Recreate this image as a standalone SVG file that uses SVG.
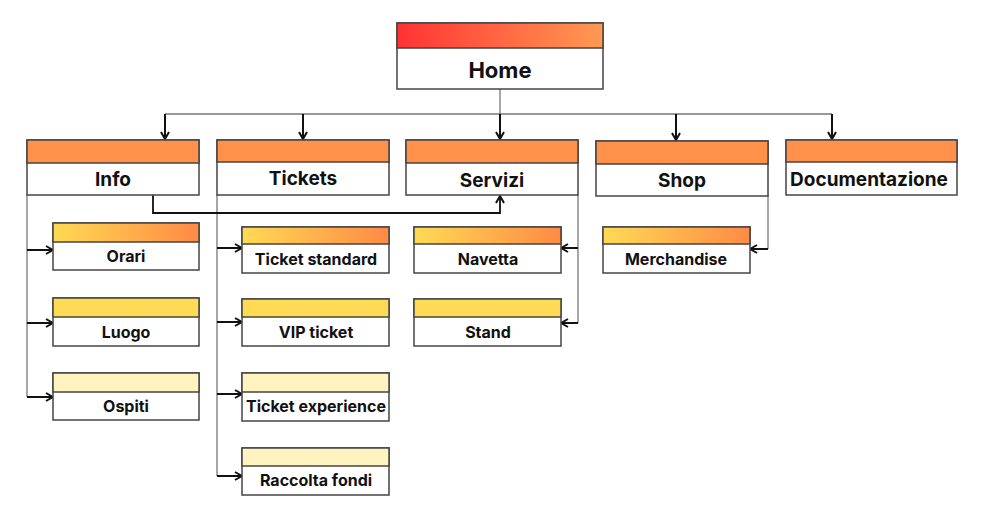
<svg xmlns="http://www.w3.org/2000/svg" width="986" height="515" viewBox="0 0 986 515">
<defs>
<linearGradient id="gRed" x1="0" y1="0" x2="1" y2="0"><stop offset="0" stop-color="#FF3333"/><stop offset="1" stop-color="#FF9A52"/></linearGradient>
<linearGradient id="gYel" x1="0" y1="0" x2="1" y2="0"><stop offset="0" stop-color="#FFDA55"/><stop offset="1" stop-color="#FF8A45"/></linearGradient>
<marker id="ah" viewBox="0 0 10 10" refX="9" refY="5" markerWidth="10" markerHeight="10" markerUnits="userSpaceOnUse" orient="auto">
<path d="M2,1 L9,5 L2,9" fill="none" stroke="#111" stroke-width="2"/>
</marker>
<style>
.box{fill:#fff;stroke:#444;stroke-width:1.5}
.hd{stroke:#444;stroke-width:1.5}
.t1{font-family:Inter,"Liberation Sans",sans-serif;font-weight:700;font-size:19px;fill:#111;text-anchor:middle}
.t2{font-family:Inter,"Liberation Sans",sans-serif;font-weight:700;font-size:16px;fill:#111;text-anchor:middle}
.th{font-family:Inter,"Liberation Sans",sans-serif;font-weight:700;font-size:22px;fill:#111;text-anchor:middle}
.gl{fill:none;stroke:#777;stroke-width:1.3}
.ar{fill:none;stroke:#111;stroke-width:2;marker-end:url(#ah)}
</style>
</defs>
<rect width="986" height="515" fill="#fff"/>
<g id="connectors">
<path class="gl" d="M500,89 V114 M165,114 H832"/>
<path class="ar" d="M165,114 V139"/>
<path class="ar" d="M303,114 V139"/>
<path class="ar" d="M500,114 V139"/>
<path class="ar" d="M676,114 V140"/>
<path class="ar" d="M832,114 V139"/>
<path class="gl" d="M27,195 V397"/>
<path class="ar" d="M27,250 H53"/>
<path class="ar" d="M27,323 H53"/>
<path class="ar" d="M27,397 H53"/>
<path class="gl" d="M217,195 V476"/>
<path class="ar" d="M217,248 H242"/>
<path class="ar" d="M217,322 H242"/>
<path class="ar" d="M217,394 H242"/>
<path class="ar" d="M217,476 H242"/>
<path class="gl" d="M578,195 V323"/>
<path class="ar" d="M578,248 H561"/>
<path class="ar" d="M578,323 H561"/>
<path class="gl" d="M768,195 V249"/>
<path class="ar" d="M768,249 H750"/>
<path class="ar" style="stroke-width:1.8" d="M153,195 V213 H500 V196"/>
</g>
<g id="home">
<rect class="box" x="397" y="23" width="206" height="66"/>
<rect class="hd" x="397" y="23" width="206" height="25" fill="url(#gRed)"/>
<text class="th" x="500" y="78">Home</text>
</g>
<g id="info">
<rect class="box" x="27" y="140" width="172" height="55"/>
<rect class="hd" x="27" y="140" width="172" height="23" fill="#FF914A"/>
<text class="t1" x="113" y="186">Info</text>
</g>
<g id="tickets">
<rect class="box" x="217" y="140" width="172" height="55"/>
<rect class="hd" x="217" y="140" width="172" height="22" fill="#FF914A"/>
<text class="t1" x="303" y="185">Tickets</text>
</g>
<g id="servizi">
<rect class="box" x="406" y="140" width="172" height="55"/>
<rect class="hd" x="406" y="140" width="172" height="23" fill="#FF914A"/>
<text class="t1" x="492" y="187">Servizi</text>
</g>
<g id="shop">
<rect class="box" x="596" y="141" width="172" height="55"/>
<rect class="hd" x="596" y="141" width="172" height="23" fill="#FF914A"/>
<text class="t1" x="682" y="187">Shop</text>
</g>
<g id="documentazione">
<rect class="box" x="786" y="140" width="171" height="55"/>
<rect class="hd" x="786" y="140" width="171" height="22" fill="#FF914A"/>
<text class="t1" x="869" y="186">Documentazione</text>
</g>
<g id="orari">
<rect class="box" x="53" y="223" width="146" height="47"/>
<rect class="hd" x="53" y="223" width="146" height="19" fill="url(#gYel)"/>
<text class="t2" x="126" y="262">Orari</text>
</g>
<g id="luogo">
<rect class="box" x="53" y="298" width="146" height="48"/>
<rect class="hd" x="53" y="298" width="146" height="19" fill="#FFDA55"/>
<text class="t2" x="126" y="338">Luogo</text>
</g>
<g id="ospiti">
<rect class="box" x="53" y="373" width="146" height="47"/>
<rect class="hd" x="53" y="373" width="146" height="19" fill="#FFF3C0"/>
<text class="t2" x="126" y="412">Ospiti</text>
</g>
<g id="ticket-standard">
<rect class="box" x="242" y="227" width="147" height="46"/>
<rect class="hd" x="242" y="227" width="147" height="17" fill="url(#gYel)"/>
<text class="t2" x="316" y="265">Ticket standard</text>
</g>
<g id="vip-ticket">
<rect class="box" x="242" y="299" width="147" height="47"/>
<rect class="hd" x="242" y="299" width="147" height="18" fill="#FFDA55"/>
<text class="t2" x="316" y="338">VIP ticket</text>
</g>
<g id="ticket-experience">
<rect class="box" x="242" y="373" width="147" height="48"/>
<rect class="hd" x="242" y="373" width="147" height="19" fill="#FFF3C0"/>
<text class="t2" x="316" y="412">Ticket experience</text>
</g>
<g id="raccolta-fondi">
<rect class="box" x="242" y="448" width="147" height="47"/>
<rect class="hd" x="242" y="448" width="147" height="18" fill="#FFF3C0"/>
<text class="t2" x="316" y="486">Raccolta fondi</text>
</g>
<g id="navetta">
<rect class="box" x="414" y="227" width="147" height="46"/>
<rect class="hd" x="414" y="227" width="147" height="17" fill="url(#gYel)"/>
<text class="t2" x="488" y="265">Navetta</text>
</g>
<g id="stand">
<rect class="box" x="414" y="299" width="147" height="47"/>
<rect class="hd" x="414" y="299" width="147" height="18" fill="#FFDA55"/>
<text class="t2" x="488" y="338">Stand</text>
</g>
<g id="merchandise">
<rect class="box" x="603" y="227" width="147" height="46"/>
<rect class="hd" x="603" y="227" width="147" height="17" fill="url(#gYel)"/>
<text class="t2" x="676" y="265">Merchandise</text>
</g>
</svg>
